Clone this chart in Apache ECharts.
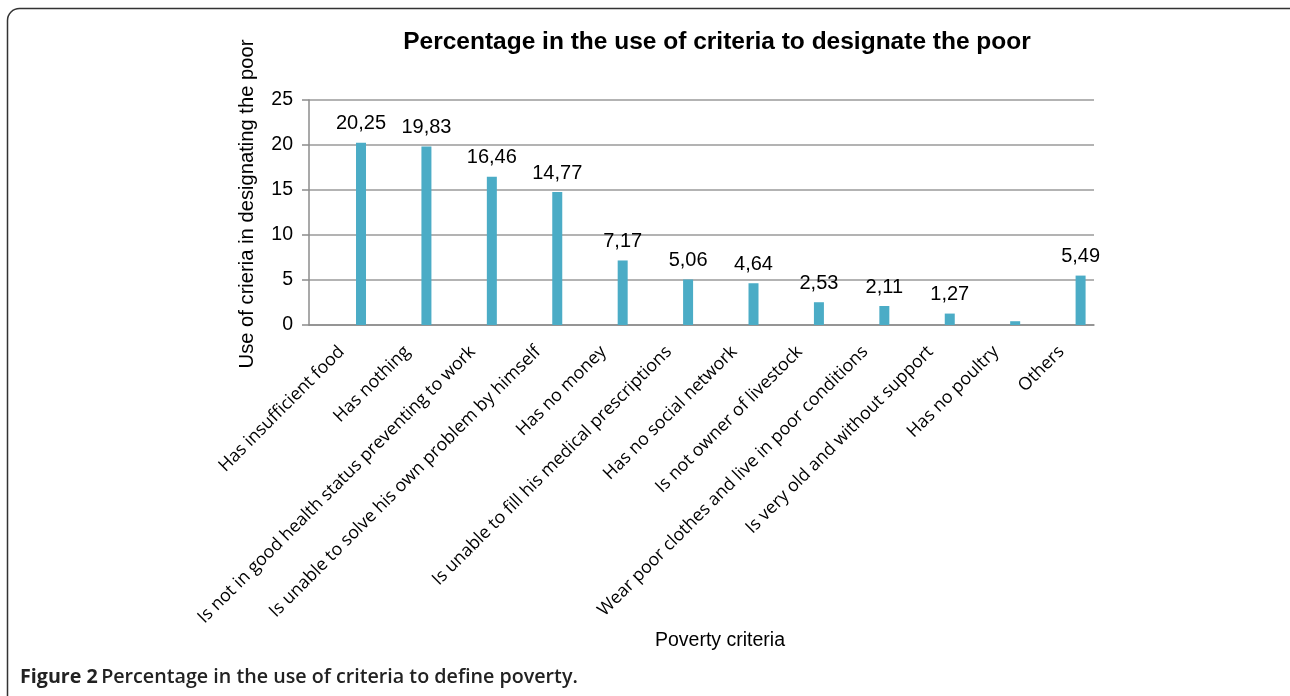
<!DOCTYPE html>
<html>
<head>
<meta charset="utf-8">
<script src="https://cdn.jsdelivr.net/npm/echarts@6/dist/echarts.min.js"></script>
<style>
html,body{margin:0;padding:0;background:#fff;}
#chart{width:1290px;height:696px;}
</style>
</head>
<body>
<div id="chart"></div>
<script>
const categories = [
  "Has insufficient food",
  "Has nothing",
  "Is not in good health status preventing to work",
  "Is unable to solve his own problem by himself",
  "Has no money",
  "Is unable to fill his medical prescriptions",
  "Has no social network",
  "Is not owner of livestock",
  "Wear poor clothes and live in poor conditions",
  "Is very old and without support",
  "Has no poultry",
  "Others"
];
const values = [20.25, 19.83, 16.46, 14.77, 7.17, 5.06, 4.64, 2.53, 2.11, 1.27, 0.42, 5.49];
const labelShown = [true, true, true, true, true, true, true, true, true, true, false, true];
const yTicks = [0, 5, 10, 15, 20, 25];
const titleText = "Percentage in the use of criteria to designate the poor";
const yAxisTitle = "Use of crieria in designating the poor";
const xAxisTitle = "Poverty criteria";

const chart = echarts.init(document.getElementById('chart'), null, {renderer: 'canvas'});
const placeholder = categories.map(() => '-');
const option = {
  animation: false,
  backgroundColor: '#fff',
  title: {
    text: titleText,
    left: 712, top: 25, textAlign: 'center',
    textStyle: {fontFamily: 'Liberation Sans', fontWeight: 'bold', fontSize: 24.5, color: '#000'}
  },
  grid: {left: 309, right: 196, top: 100, bottom: 371, containLabel: false},
  xAxis: {
    type: 'category',
    data: categories,
    axisLine: {show: true, lineStyle: {color: '#8c8c8c', width: 1.5}},
    axisTick: {show: false},
    axisLabel: {
      rotate: 45, interval: 0, margin: 24,
      fontFamily: 'Open Sans', fontSize: 17.7, color: '#000'
    }
  },
  yAxis: {
    type: 'value',
    min: 0, max: 25, interval: 5,
    axisLine: {show: true, lineStyle: {color: '#8c8c8c', width: 1.5}},
    axisTick: {show: true, length: 7, lineStyle: {color: '#8c8c8c', width: 1.5}},
    splitLine: {show: true, lineStyle: {color: '#9a9a9a', width: 1.5}},
    axisLabel: {
      margin: 16, fontFamily: 'Liberation Sans', fontSize: 19.5, color: '#000',
      formatter: v => yTicks.includes(v) ? String(v) : ''
    }
  },
  series: [
    {type: 'bar', data: placeholder, barWidth: 10, barGap: '286%', silent: true},
    {
      type: 'bar',
      data: values.map((v, i) => ({
        value: v,
        label: {show: labelShown[i]}
      })),
      barWidth: 10,
      itemStyle: {color: '#4bacc6'},
      label: {
        show: true, position: 'top', distance: 9,
        fontFamily: 'Liberation Sans', fontSize: 20, color: '#000',
        formatter: p => p.value.toFixed(2).replace('.', ',')
      }
    }
  ],
  graphic: [
    {
      type: 'rect', silent: true,
      shape: {x: 7.5, y: 8.5, width: 1300, height: 700, r: 12},
      style: {fill: null, stroke: '#333', lineWidth: 1.5},
      z: -1
    },
    {
      type: 'text', silent: true,
      rotation: Math.PI / 2,
      x: 247, y: 204,
      style: {
        text: yAxisTitle, fontFamily: 'Liberation Sans', fontSize: 20.2, fill: '#000',
        align: 'center', verticalAlign: 'middle'
      }
    },
    {
      type: 'text', silent: true,
      x: 720, y: 641,
      style: {
        text: xAxisTitle, fontFamily: 'Liberation Sans', fontSize: 19.5, fill: '#000',
        align: 'center', verticalAlign: 'middle'
      }
    },
    {
      type: 'text', silent: true,
      x: 20, y: 677,
      style: {
        rich: {
          b: {fontFamily: 'Open Sans', fontWeight: 'bold', fontSize: 19.7, fill: '#222', color: '#222'},
          n: {fontFamily: 'Open Sans', fontWeight: 600, fontSize: 19.7, fill: '#222', color: '#222'}
        },
        text: '{b|Figure 2} {n|Percentage in the use of criteria to define poverty.}',
        verticalAlign: 'middle'
      }
    }
  ]
};
chart.setOption(option);
</script>
</body>
</html>
